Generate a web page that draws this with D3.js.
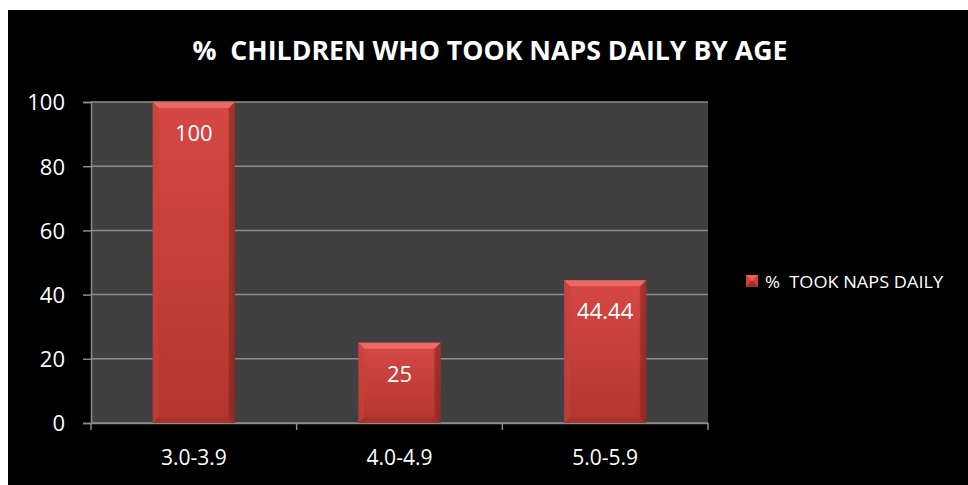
<!DOCTYPE html>
<html><head><meta charset="utf-8">
<script src="https://cdn.jsdelivr.net/npm/d3@7"></script>
<style>html,body{margin:0;padding:0;background:#fff;}svg{display:block;}text{white-space:pre;}</style>
</head><body><svg id="c" width="968" height="485"></svg>
<script>
const categories = ["3.0-3.9", "4.0-4.9", "5.0-5.9"];
const values = [100, 25, 44.44];
const valueLabels = ["100", "25", "44.44"];
const yTicks = [0, 20, 40, 60, 80, 100];
const seriesName = "%  TOOK NAPS DAILY";
const title = "%  CHILDREN WHO TOOK NAPS DAILY BY AGE";

const svg = d3.select("#c");
const font = "'Open Sans', sans-serif";
svg.append("rect").attr("x", 8).attr("y", 10).attr("width", 960).attr("height", 475).attr("fill", "#000");

const L = 91, R = 708, T = 102, B = 423;
const x = d3.scaleBand().domain(categories).range([L, R]).paddingInner(0).paddingOuter(0);
const y = d3.scaleLinear().domain([0, 100]).range([B, T]);

svg.append("rect").attr("x", L).attr("y", T).attr("width", R - L).attr("height", B - T).attr("fill", "#404040");

// gridlines
svg.append("g").selectAll("line").data(yTicks).join("line")
  .attr("x1", L).attr("x2", R).attr("y1", d => y(d)).attr("y2", d => y(d))
  .attr("stroke", "#8c8c8c").attr("stroke-width", 1.5);

// y axis
const ya = svg.append("g").attr("transform", `translate(${L},0)`)
  .call(d3.axisLeft(y).tickValues(yTicks).tickSize(8).tickPadding(18));
ya.select(".domain").attr("stroke", "#8c8c8c").attr("stroke-width", 1.5);
ya.selectAll(".tick line").attr("stroke", "#8c8c8c").attr("stroke-width", 1.5);
ya.selectAll("text").attr("fill", "#fff").attr("dy", "0.36em").style("font-family", font).style("font-size", "22px");

// x axis
const xa = svg.append("g").attr("transform", `translate(0,${B})`)
  .call(d3.axisBottom(x).tickSize(0));
xa.select(".domain").attr("stroke", "#8c8c8c").attr("stroke-width", 1.5);
xa.selectAll("text").attr("fill", "#fff").attr("y", 34).attr("dy", "0.36em")
  .style("font-family", font).style("font-size", "21px");
const bounds = [L, ...categories.map(c => x(c) + x.bandwidth())];
svg.append("g").selectAll("line").data(bounds).join("line")
  .attr("x1", d => d).attr("x2", d => d).attr("y1", B).attr("y2", B + 7)
  .attr("stroke", "#8c8c8c").attr("stroke-width", 1.5);

// gradient
const defs = svg.append("defs");
const g = defs.append("linearGradient").attr("id", "barg").attr("x1", 0).attr("y1", 0).attr("x2", 0).attr("y2", 1);
g.append("stop").attr("offset", "0%").attr("stop-color", "#d64845");
g.append("stop").attr("offset", "100%").attr("stop-color", "#b3362f");
const gh = defs.append("linearGradient").attr("id", "barh").attr("x1", 0).attr("y1", 0).attr("x2", 1).attr("y2", 0);
gh.append("stop").attr("offset", "0%").attr("stop-color", "#000").attr("stop-opacity", 0.08);
gh.append("stop").attr("offset", "10%").attr("stop-color", "#000").attr("stop-opacity", 0);
gh.append("stop").attr("offset", "90%").attr("stop-color", "#000").attr("stop-opacity", 0);
gh.append("stop").attr("offset", "100%").attr("stop-color", "#000").attr("stop-opacity", 0.2);

const bw = x.bandwidth() * 0.4;
const bars = svg.append("g").selectAll("g").data(categories.map((c, i) => ({c, v: values[i], l: valueLabels[i]}))).join("g");
bars.each(function(d) {
  const sel = d3.select(this);
  const x0 = x(d.c) + (x.bandwidth() - bw) / 2, x1 = x0 + bw;
  const y0 = y(d.v), y1 = y(0);
  const e = 6;
  sel.append("rect").attr("x", x0).attr("y", y0).attr("width", bw).attr("height", y1 - y0).attr("fill", "url(#barg)");
  sel.append("rect").attr("x", x0).attr("y", y0).attr("width", bw).attr("height", y1 - y0).attr("fill", "url(#barh)");
  sel.append("polygon").attr("points", `${x0},${y0} ${x1},${y0} ${x1-e},${y0+e} ${x0+e},${y0+e}`).attr("fill", "#ea6a66");
  sel.append("polygon").attr("points", `${x0},${y1} ${x1},${y1} ${x1-e},${y1-e} ${x0+e},${y1-e}`).attr("fill", "#a32e2b").attr("opacity", 0.6);
  sel.append("polygon").attr("points", `${x0},${y0} ${x0+e},${y0+e} ${x0+e},${y1-e} ${x0},${y1}`).attr("fill", "#c94340").attr("opacity", 0.5);
  sel.append("polygon").attr("points", `${x1},${y0} ${x1-e},${y0+e} ${x1-e},${y1-e} ${x1},${y1}`).attr("fill", "#8e2623").attr("opacity", 0.55);
  sel.append("text").attr("x", (x0 + x1) / 2).attr("y", y0 + 31).attr("dy", "0.36em")
    .attr("text-anchor", "middle").attr("fill", "#fff").style("font-family", font).style("font-size", "22px").text(d.l);
});

// title
svg.append("text").attr("x", 490).attr("y", 51).attr("dy", "0.36em").attr("text-anchor", "middle")
  .attr("fill", "#fff").style("font-family", font).style("font-weight", "bold").style("font-size", "26px")
  .attr("textLength", 595).attr("lengthAdjust", "spacingAndGlyphs").text(title);

// legend
const lg = svg.append("g");
lg.append("rect").attr("x", 746).attr("y", 275).attr("width", 12).attr("height", 12).attr("fill", "#cc403d");
lg.append("polygon").attr("points", "746,275 758,275 752,281").attr("fill", "#e8625e");
lg.append("polygon").attr("points", "746,287 758,287 752,281").attr("fill", "#a02b28");
lg.append("text").attr("x", 765).attr("y", 282).attr("dy", "0.36em").attr("fill", "#fff")
  .style("font-family", font).style("font-size", "17px")
  .attr("textLength", 178).attr("lengthAdjust", "spacingAndGlyphs").text(seriesName);
</script></body></html>
